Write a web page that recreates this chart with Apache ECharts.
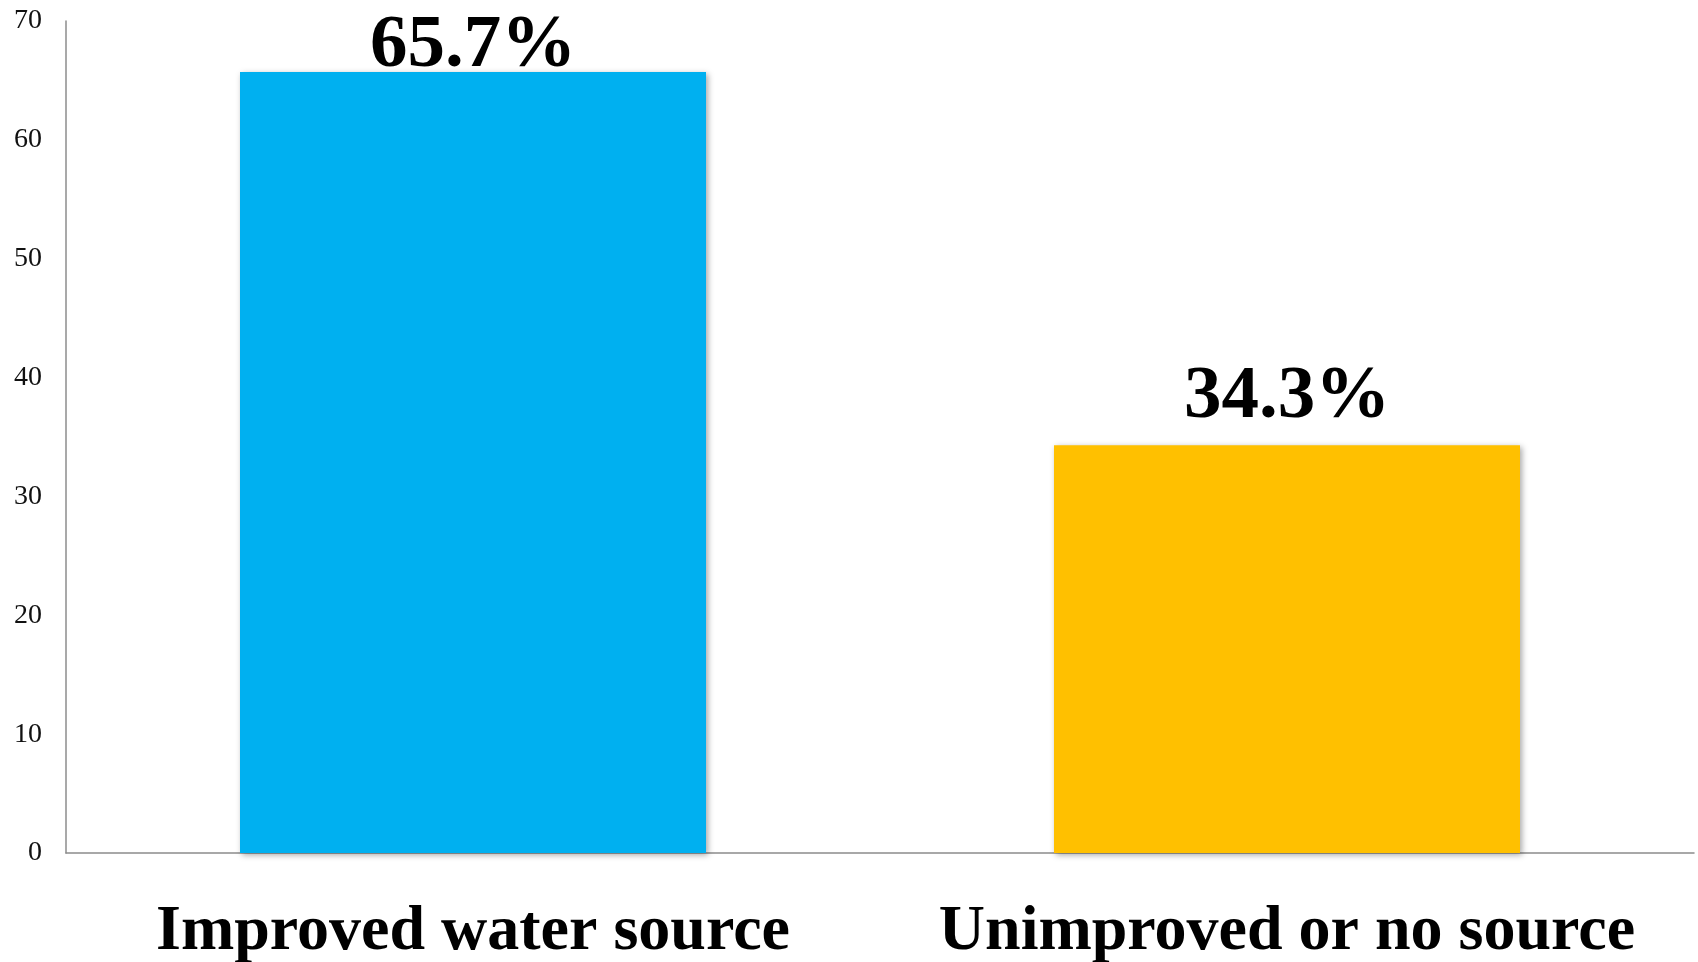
<!DOCTYPE html>
<html>
<head>
<meta charset="utf-8">
<title>Water source</title>
<script src="https://cdn.jsdelivr.net/npm/echarts@6/dist/echarts.min.js"></script>
<style>
  html, body { margin: 0; padding: 0; background: #ffffff; }
  #chart { width: 1698px; height: 962px; }
</style>
</head>
<body>
<div id="chart"></div>
<script>
// Share of households by main drinking-water source (%)
const categories = ['Improved water source', 'Unimproved or no source'];
const shares = [65.7, 34.3];
const barColors = ['#00B0F0', '#FFC000'];
const yTicks = { min: 0, max: 70, interval: 10 };

const serif = '"Liberation Serif", "Times New Roman", serif';

const chart = echarts.init(document.getElementById('chart'));

const seriesData = shares.map((v, i) => ({
  value: v,
  itemStyle: { color: barColors[i] },
  // the tall bar's label sits tighter against the bar so it stays inside the canvas
  label: i === 0 ? { offset: [0, 22] } : {}
}));

chart.setOption({
  animation: false,
  backgroundColor: '#ffffff',
  grid: {
    left: 66, right: 4, top: 21, bottom: 109,
    containLabel: false,
    outerBoundsMode: 'none'
  },
  xAxis: {
    type: 'category',
    data: categories,
    axisLine: { show: true, lineStyle: { color: '#8c8c8c', width: 1.5 } },
    axisTick: { show: false },
    axisLabel: {
      interval: 0,
      color: '#000000',
      fontFamily: serif,
      fontWeight: 'bold',
      fontSize: 64,
      margin: 47
    }
  },
  yAxis: {
    type: 'value',
    min: yTicks.min,
    max: yTicks.max,
    interval: yTicks.interval,
    axisLine: { show: true, lineStyle: { color: '#8c8c8c', width: 1.5 } },
    axisTick: { show: false },
    splitLine: { show: false },
    axisLabel: {
      color: '#111111',
      fontFamily: serif,
      fontSize: 28,
      margin: 24
    }
  },
  series: [{
    type: 'bar',
    data: seriesData,
    barWidth: 466,
    itemStyle: {
      shadowColor: 'rgba(0,0,0,0.35)',
      shadowBlur: 6,
      shadowOffsetX: 2,
      shadowOffsetY: 2
    },
    label: {
      show: true,
      position: 'top',
      distance: 10,
      color: '#000000',
      fontFamily: serif,
      fontWeight: 'bold',
      fontSize: 75,
      formatter: p => p.value.toFixed(1) + '%'
    }
  }]
});
</script>
</body>
</html>
